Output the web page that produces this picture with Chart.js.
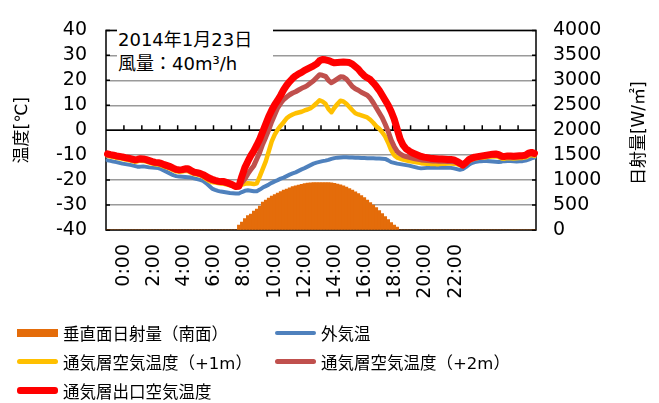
<!DOCTYPE html>
<html>
<head>
<meta charset="utf-8">
<script src="https://cdn.jsdelivr.net/npm/chart.js"></script>
<style>
body { margin: 0; background: #fff; }
#wrap { position: relative; width: 659px; height: 403px; font-family: "DejaVu Sans", "Noto Sans CJK JP", sans-serif; color: #000; }
#note { position: absolute; left: 117px; top: 28px; width: 155px; padding-left: 1px; background: #fff; font-size: 18px; line-height: 24px; }
#legend { position: absolute; left: 17px; top: 318px; display: grid; grid-template-columns: 258px auto; grid-auto-rows: 29px; font-size: 16.5px; }
.item { display: flex; align-items: center; white-space: nowrap; }
.sw { display: inline-block; width: 41px; margin-right: 5px; border-radius: 3px; }
</style>
</head>
<body>
<div id="wrap">
  <canvas id="myChart" width="659" height="403"></canvas>
  <div id="note">2014年1月23日<br>風量：40m³/h</div>
  <div id="legend"></div>
</div>
<script>
const tickHours = [0, 2, 4, 6, 8, 10, 12, 14, 16, 18, 20, 22];

// 10-minute samples, 0:00 - 23:50
const times = [];
for (let h = 0; h < 24; h++) {
    for (let m = 0; m < 60; m += 10) {
        times.push(h + ':' + (m === 0 ? '00' : m));
    }
}

const radiation = [
    0, 0, 0, 0, 0, 0, 0, 0, 0, 0, 0, 0,
    0, 0, 0, 0, 0, 0, 0, 0, 0, 0, 0, 0,
    0, 0, 0, 0, 0, 0, 0, 0, 0, 0, 0, 0,
    0, 0, 0, 0, 0, 0, 0, 0, 100, 160, 230, 290,
    320, 380, 420, 480, 560, 600, 640, 680, 710, 740, 770, 800,
    820, 845, 870, 885, 900, 915, 930, 940, 945, 950, 952, 952,
    952, 950, 950, 945, 935, 920, 905, 885, 860, 830, 800, 765,
    730, 690, 650, 600, 550, 500, 450, 390, 330, 270, 210, 150,
    100, 60, 0, 0, 0, 0, 0, 0, 0, 0, 0, 0,
    0, 0, 0, 0, 0, 0, 0, 0, 0, 0, 0, 0,
    0, 0, 0, 0, 0, 0, 0, 0, 0, 0, 0, 0,
    0, 0, 0, 0, 0, 0, 0, 0, 0, 0, 0, 0
];

const outdoorTemp = [
    -12.1, -12.3, -12.6, -12.8, -13.1, -13.4, -13.6, -13.8, -14.0, -14.3, -14.6, -14.6,
    -14.5, -14.7, -14.9, -15.0, -15.1, -15.2, -15.6, -16.2, -16.8, -17.4, -18.0, -18.4,
    -18.6, -18.7, -18.8, -18.9, -19.0, -19.3, -19.6, -19.9, -20.3, -21.2, -22.3, -23.4,
    -23.9, -24.3, -24.6, -24.8, -25.0, -25.2, -25.3, -25.4, -25.4, -24.8, -24.3, -24.1,
    -24.3, -24.5, -24.5, -23.8, -23.0, -22.4, -21.8, -21.1, -20.5, -20.0, -19.4, -19.0,
    -18.4, -17.8, -17.3, -16.9, -16.3, -15.7, -15.2, -14.6, -14.0, -13.4, -13.0, -12.7,
    -12.4, -12.2, -11.9, -11.5, -11.2, -11.0, -10.9, -10.8, -10.8, -10.9, -10.9, -11.0,
    -11.0, -11.1, -11.1, -11.2, -11.2, -11.2, -11.3, -11.3, -11.4, -11.5, -12.1, -12.8,
    -13.1, -13.4, -13.6, -13.8, -14.0, -14.2, -14.5, -14.8, -15.1, -15.3, -15.2, -15.1,
    -15.0, -15.0, -15.0, -15.0, -15.0, -15.0, -15.0, -15.1, -15.3, -15.6, -15.9, -15.6,
    -14.8, -13.9, -13.2, -12.8, -12.6, -12.4, -12.3, -12.3, -12.4, -12.5, -12.6, -12.7,
    -12.6, -12.4, -12.3, -12.3, -12.4, -12.5, -12.4, -12.4, -12.2, -11.8, -11.3, -11.0
];

const layer1m = [
    -10.3, -10.6, -10.8, -11.1, -11.3, -11.5, -11.8, -12.0, -12.3, -12.6, -12.5, -12.2,
    -12.3, -12.6, -13.0, -13.4, -13.7, -13.8, -14.1, -14.6, -15.0, -15.4, -16.0, -16.5,
    -16.7, -16.6, -16.3, -16.4, -17.0, -17.6, -17.8, -18.1, -18.6, -19.5, -20.3, -20.8,
    -21.0, -21.2, -21.4, -21.5, -21.8, -22.1, -22.4, -22.7, -22.5, -21.8, -21.5, -21.3,
    -21.4, -21.6, -21.3, -18.5, -15.5, -12.5, -8.5, -4.5, -1.8, 0.2, 1.8, 3.2,
    4.8, 5.7, 6.3, 6.8, 7.1, 7.4, 7.9, 8.3, 8.8, 9.7, 10.8, 12.0,
    11.5, 10.6, 8.5, 7.2, 9.0, 10.5, 11.8, 11.5, 10.6, 9.3, 8.0, 6.8,
    6.3, 5.9, 5.5, 5.1, 4.2, 3.0, 1.6, 0.6, -0.8, -2.5, -5.0, -8.0,
    -10.0, -11.0, -11.4, -11.8, -12.1, -12.4, -12.6, -12.8, -13.0, -13.2, -13.3, -13.4,
    -13.5, -13.5, -13.6, -13.6, -13.5, -13.4, -13.3, -13.3, -13.4, -13.6, -14.0, -14.4,
    -13.5, -12.5, -11.8, -11.4, -11.2, -11.0, -10.9, -10.8, -10.6, -10.5, -10.5, -10.8,
    -11.3, -11.4, -11.2, -11.2, -11.3, -11.2, -11.1, -11.1, -10.9, -10.3, -10.0, -10.3
];

const layer2m = [
    -10.0, -10.2, -10.4, -10.7, -10.9, -11.1, -11.4, -11.6, -11.9, -12.2, -12.1, -11.8,
    -11.9, -12.2, -12.6, -13.0, -13.3, -13.4, -13.7, -14.2, -14.6, -15.0, -15.6, -16.1,
    -16.3, -16.2, -15.9, -16.0, -16.6, -17.2, -17.4, -17.7, -18.2, -18.9, -19.7, -20.2,
    -20.5, -20.8, -21.0, -21.1, -21.4, -21.8, -22.2, -22.6, -22.4, -21.0, -19.5, -17.5,
    -15.8, -14.2, -11.5, -8.8, -5.5, -2.8, 0.2, 3.4, 6.2, 9.0, 10.8, 12.3,
    13.3, 14.2, 14.9, 15.4, 16.1, 16.8, 17.3, 18.0, 18.9, 19.8, 21.0, 22.2,
    22.0, 21.6, 20.0, 19.0, 19.8, 20.6, 21.4, 21.3, 20.5, 19.0, 17.5, 16.6,
    16.0, 15.2, 14.6, 14.0, 12.8, 11.0, 9.0, 7.0, 5.0, 2.4, -0.5, -4.0,
    -6.5, -8.5, -9.5, -10.2, -10.6, -10.9, -11.2, -11.5, -11.7, -11.9, -12.0, -12.1,
    -12.2, -12.3, -12.3, -12.4, -12.4, -12.4, -12.5, -12.5, -12.6, -13.0, -13.6, -14.2,
    -13.3, -12.2, -11.6, -11.2, -11.0, -10.8, -10.6, -10.4, -10.2, -10.0, -10.0, -10.3,
    -10.8, -10.9, -10.7, -10.7, -10.8, -10.7, -10.6, -10.6, -10.4, -9.7, -9.4, -9.8
];

const outlet = [
    -9.5, -9.8, -10.0, -10.3, -10.5, -10.7, -11.0, -11.2, -11.5, -11.8, -11.7, -11.4,
    -11.5, -11.8, -12.2, -12.6, -12.9, -13.0, -13.3, -13.8, -14.2, -14.6, -15.2, -15.7,
    -15.9, -15.8, -15.5, -15.5, -16.2, -16.8, -17.0, -17.3, -17.8, -18.5, -19.2, -19.7,
    -20.1, -20.4, -20.6, -20.6, -21.0, -21.5, -22.0, -22.6, -22.5, -18.5, -15.0, -12.5,
    -10.2, -8.3, -6.0, -3.5, -0.5, 2.5, 5.5, 8.0, 10.2, 12.0, 14.0, 16.2,
    18.0, 19.5, 20.8, 21.8, 22.6, 23.2, 24.0, 24.6, 25.2, 25.8, 26.5, 27.8,
    28.3, 28.2, 27.9, 27.4, 27.0, 27.1, 27.2, 27.3, 27.2, 27.1, 26.5, 25.5,
    24.5, 23.0, 21.8, 21.0, 20.3, 19.0, 17.6, 16.0, 14.0, 12.0, 10.0, 7.5,
    4.5, 0.5, -3.5, -6.0, -7.5, -8.3, -9.0, -9.5, -10.0, -10.5, -10.8, -11.0,
    -11.2, -11.3, -11.4, -11.5, -11.5, -11.6, -11.7, -11.7, -11.9, -12.5, -13.2, -14.0,
    -13.0, -11.8, -11.2, -10.8, -10.6, -10.4, -10.2, -10.0, -9.8, -9.6, -9.5, -9.8,
    -10.4, -10.5, -10.3, -10.3, -10.4, -10.3, -10.2, -10.2, -10.0, -9.2, -8.9, -9.3
];

const fontFamily = '"DejaVu Sans", "Noto Sans CJK JP", sans-serif';

const framePlugin = {
    id: 'frame',
    beforeDatasetsDraw(chart) {
        const { ctx, chartArea: a, scales } = chart;
        const y0 = scales.y.getPixelForValue(0);
        ctx.save();
        ctx.strokeStyle = '#000';
        ctx.lineWidth = 1.5;
        ctx.strokeRect(a.left, a.top, a.right - a.left, a.bottom - a.top);
        ctx.beginPath();
        ctx.moveTo(a.left, y0);
        ctx.lineTo(a.right, y0);
        for (let i = 6; i < times.length; i += 6) {
            const px = scales.x.getPixelForValue(i - 0.5);
            ctx.moveTo(px, y0);
            ctx.lineTo(px, y0 - 5);
        }
        scales.y.ticks.forEach((t) => {
            const py = scales.y.getPixelForValue(t.value);
            ctx.moveTo(a.left, py);
            ctx.lineTo(a.left + 4, py);
            ctx.moveTo(a.right, py);
            ctx.lineTo(a.right - 4, py);
        });
        ctx.stroke();
        ctx.restore();
    },
    afterDraw(chart) {
        const { ctx, chartArea: a, scales } = chart;
        ctx.save();
        ctx.translate(scales.y1.right - 19, (a.top + a.bottom) / 2 + 3);
        ctx.rotate(-Math.PI / 2);
        ctx.font = '17px ' + fontFamily;
        ctx.fillStyle = '#000';
        ctx.textAlign = 'center';
        ctx.textBaseline = 'middle';
        ctx.fillText('日射量[W/㎡]', 0, 0);
        ctx.restore();
    }
};

const data = {
    labels: times,
    datasets: [{
        type: 'bar',
        label: '垂直面日射量（南面）',
        data: radiation,
        xAxisID: 'x',
        yAxisID: 'y1',
        backgroundColor: '#E46C0A',
        borderWidth: 0,
        barPercentage: 1,
        categoryPercentage: 1,
        order: 5
    }, {
        type: 'line',
        label: '外気温',
        data: outdoorTemp,
        xAxisID: 'x',
        yAxisID: 'y',
        borderColor: '#4F81BD',
        borderWidth: 4,
        order: 4
    }, {
        type: 'line',
        label: '通気層空気温度（+1m）',
        data: layer1m,
        xAxisID: 'x',
        yAxisID: 'y',
        borderColor: '#FFC000',
        borderWidth: 4.5,
        order: 3
    }, {
        type: 'line',
        label: '通気層空気温度（+2m）',
        data: layer2m,
        xAxisID: 'x',
        yAxisID: 'y',
        borderColor: '#C0504D',
        borderWidth: 5,
        order: 2
    }, {
        type: 'line',
        label: '通気層出口空気温度',
        data: outlet,
        xAxisID: 'x',
        yAxisID: 'y',
        borderColor: '#FF0000',
        borderWidth: 7,
        order: 1
    }]
};

const tickFont = { family: fontFamily, size: 19 };

const config = {
    type: 'bar',
    data: data,
    options: {
        responsive: false,
        animation: false,
        devicePixelRatio: 1,
        layout: { padding: { top: 20, left: 0, right: 0, bottom: 0 } },
        elements: {
            line: { tension: 0, borderJoinStyle: 'round', borderCapStyle: 'round' },
            point: { radius: 0 }
        },
        plugins: {
            legend: { display: false },
            tooltip: { enabled: false }
        },
        scales: {
            x: { type: 'category', display: false, offset: true },
            xl: {
                type: 'linear',
                position: 'bottom',
                min: 0,
                max: 26.14,
                afterBuildTicks: (s) => { s.ticks = s.ticks.filter((t) => tickHours.includes(t.value)); },
                afterFit: (s) => { s.height = 173; },
                grid: { display: false, drawTicks: false },
                border: { display: false },
                ticks: {
                    stepSize: 2,
                    autoSkip: false,
                    maxRotation: 90,
                    minRotation: 90,
                    padding: 14,
                    color: '#000',
                    font: tickFont,
                    callback: (v) => v + ':00'
                }
            },
            y: {
                position: 'left',
                min: -40,
                max: 40,
                afterFit: (s) => { s.width = 106; },
                grid: { color: '#9a9a9a', lineWidth: 1.5, drawTicks: false },
                border: { display: false },
                ticks: { stepSize: 10, autoSkip: false, padding: 19, color: '#000', font: tickFont },
                title: {
                    display: true,
                    text: '温度[℃]',
                    color: '#000',
                    font: { family: fontFamily, size: 17 },
                    padding: { top: 12, bottom: 0 }
                }
            },
            y1: {
                position: 'right',
                min: 0,
                max: 4000,
                afterFit: (s) => { s.width = 123; },
                grid: { drawOnChartArea: false, drawTicks: false },
                border: { display: false },
                ticks: {
                    stepSize: 500,
                    autoSkip: false,
                    padding: 17,
                    color: '#000',
                    font: tickFont,
                    callback: (v) => String(v)
                }
            }
        }
    },
    plugins: [framePlugin]
};

const myChart = new Chart(document.getElementById('myChart'), config);

const legendEl = document.getElementById('legend');
myChart.data.datasets.forEach((ds) => {
    const item = document.createElement('div');
    item.className = 'item';
    const sw = document.createElement('span');
    sw.className = 'sw';
    if (ds.type === 'bar') {
        sw.style.height = '8px';
        sw.style.borderRadius = '0';
        sw.style.background = ds.backgroundColor;
    } else {
        sw.style.height = ds.borderWidth + 'px';
        sw.style.background = ds.borderColor;
    }
    item.appendChild(sw);
    item.appendChild(document.createTextNode(ds.label));
    legendEl.appendChild(item);
});
</script>
</body>
</html>
